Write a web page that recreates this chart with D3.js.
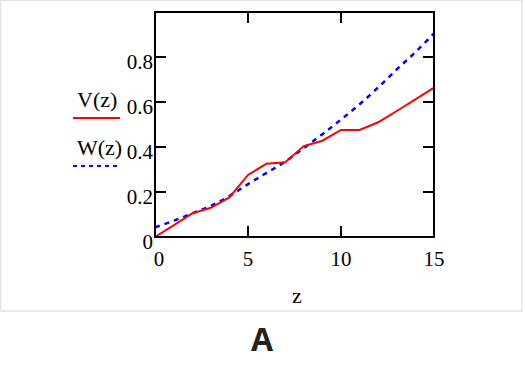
<!DOCTYPE html>
<html><head><meta charset="utf-8">
<script src="https://d3js.org/d3.v7.min.js"></script>
<style>body{margin:0;background:#fff}svg{display:block}</style>
</head><body>
<script>
const zVals = [0,1,2,3,4,5,6,7,8,9,10,11,12,13,14,15];
const vVals = [0,0.052,0.105,0.13,0.176,0.276,0.326,0.332,0.404,0.428,0.476,0.476,0.51,0.56,0.612,0.664];
const wVals = [0.043,0.072,0.105,0.138,0.182,0.235,0.285,0.335,0.395,0.457,0.522,0.59,0.665,0.745,0.822,0.905];
const xTicks = [0,5,10,15];
const yTicks = [0,0.2,0.4,0.6,0.8];
const seriesNames = ["V(z)","W(z)"];

const W = 525, H = 367;
const svg = d3.select("body").append("svg").attr("width",W).attr("height",H);

// outer light frame
svg.append("rect").attr("x",0.5).attr("y",0.5).attr("width",521.5).attr("height",310.5)
  .attr("fill","none").attr("stroke","#e4e4e4").attr("stroke-width",1.5);

const x = d3.scaleLinear().domain([0,15]).range([155,434]);
const y = d3.scaleLinear().domain([0,1]).range([237,12]);

const serif = "'Liberation Serif','Times New Roman',serif";
const g = svg.append("g");

// data lines
const vData = zVals.map((z,i)=>[z,vVals[i]]);
const wData = zVals.map((z,i)=>[z,wVals[i]]);
g.append("path").datum(wData).attr("d",d3.line().x(d=>x(d[0])).y(d=>y(d[1])).curve(d3.curveMonotoneX))
  .attr("fill","none").attr("stroke","#0000ff").attr("stroke-width",2.5).attr("stroke-dasharray","5,5");
g.append("path").datum(vData).attr("d",d3.line().x(d=>x(d[0])).y(d=>y(d[1])))
  .attr("fill","none").attr("stroke","#ff0000").attr("stroke-width",2);

// frame
g.append("rect").attr("x",x(0)).attr("y",y(1)).attr("width",x(15)-x(0)).attr("height",y(0)-y(1))
  .attr("fill","none").attr("stroke","#000").attr("stroke-width",2);

const tl = 11;
xTicks.filter(t=>t>0&&t<15).forEach(t=>{
  g.append("line").attr("x1",x(t)).attr("x2",x(t)).attr("y1",y(0)).attr("y2",y(0)-tl).attr("stroke","#000").attr("stroke-width",2);
  g.append("line").attr("x1",x(t)).attr("x2",x(t)).attr("y1",y(1)).attr("y2",y(1)+tl).attr("stroke","#000").attr("stroke-width",2);
});
yTicks.filter(t=>t>0).forEach(t=>{
  g.append("line").attr("x1",x(0)).attr("x2",x(0)+tl).attr("y1",y(t)).attr("y2",y(t)).attr("stroke","#000").attr("stroke-width",2);
  g.append("line").attr("x1",x(15)).attr("x2",x(15)-tl).attr("y1",y(t)).attr("y2",y(t)).attr("stroke","#000").attr("stroke-width",2);
});

// tick labels
xTicks.forEach(t=>{
  g.append("text").attr("x",x(t)+(t===0?4:0)).attr("y",266).attr("text-anchor","middle")
    .attr("font-family",serif).attr("font-size",21).attr("fill","#000").text(d3.format("")(t));
});
yTicks.forEach(t=>{
  g.append("text").attr("x",x(0)-2).attr("y",y(t)+12).attr("text-anchor","end")
    .attr("font-family",serif).attr("font-size",21).attr("fill","#000").text(t===0?"0":d3.format(".1f")(t));
});

// axis title
g.append("text").attr("x",297).attr("y",303).attr("text-anchor","middle")
  .attr("font-family",serif).attr("font-size",22).attr("fill","#000").text("z");

// legend
g.append("text").attr("x",77).attr("y",107).attr("font-family",serif).attr("font-size",22).attr("fill","#000").text(seriesNames[0]);
g.append("line").attr("x1",73).attr("x2",120).attr("y1",118).attr("y2",118).attr("stroke","#ff0000").attr("stroke-width",2);
g.append("text").attr("x",77).attr("y",155).attr("font-family",serif).attr("font-size",22).attr("fill","#000").text(seriesNames[1]);
g.append("line").attr("x1",73).attr("x2",120).attr("y1",166).attr("y2",166).attr("stroke","#0000ff").attr("stroke-width",2).attr("stroke-dasharray","4,4");

// caption
svg.append("text").attr("x",262).attr("y",351).attr("text-anchor","middle")
  .attr("font-family","'Open Sans','Liberation Sans',sans-serif").attr("font-weight","bold").attr("font-size",32).attr("fill","#222").text("A");
</script>
</body></html>
